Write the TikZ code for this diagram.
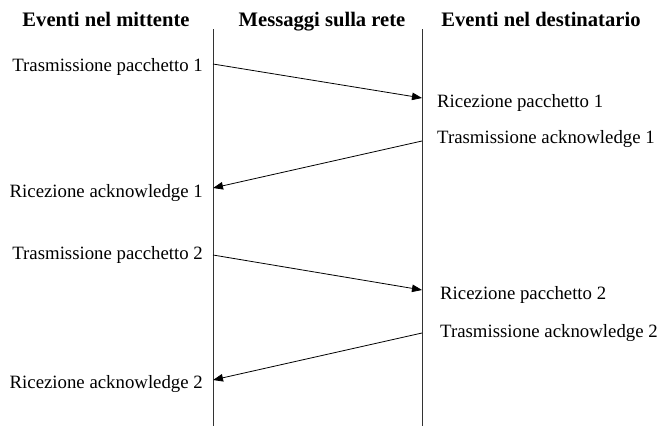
\documentclass[tikz,border=0pt]{standalone}
\usepackage{fontspec}
\setmainfont{Liberation Serif}
\usetikzlibrary{arrows.meta}
\begin{document}
\begin{tikzpicture}[x=1pt,y=-1pt,
  head/.style={font=\fontsize{20.6}{24}\selectfont\bfseries, anchor=base, inner sep=0pt},
  lbl/.style={font=\fontsize{18.8}{22}\selectfont, inner sep=0pt},
  lleft/.style={lbl, anchor=base east},
  lright/.style={lbl, anchor=base west},
  life/.style={line width=0.9pt, draw=black!80},
  msg/.style={line width=0.8pt, -{Triangle[length=10pt,width=7.5pt]}}]
\useasboundingbox (0,0) rectangle (657,426);
% headers
\node[head] (h1) at (106,26) {Eventi nel mittente};
\node[head] (h2) at (322,26) {Messaggi sulla rete};
\node[head] (h3) at (541,26) {Eventi nel destinatario};
% lifelines
\coordinate (lt) at (213,29); \coordinate (lb) at (213,426);
\coordinate (rt) at (422,29); \coordinate (rb) at (422,426);
\draw[life] (lt) -- (lb);
\draw[life] (rt) -- (rb);
% labels
\node[lleft] (s1) at (203,71) {Trasmissione pacchetto 1};
\node[lright] (r1) at (437,107) {Ricezione pacchetto 1};
\node[lright] (r2) at (437,143) {Trasmissione acknowledge 1};
\node[lleft] (s2) at (203,197) {Ricezione acknowledge 1};
\node[lleft] (s3) at (203,259) {Trasmissione pacchetto 2};
\node[lright] (r3) at (440,299) {Ricezione pacchetto 2};
\node[lright] (r4) at (440,337) {Trasmissione acknowledge 2};
\node[lleft] (s4) at (203,388) {Ricezione acknowledge 2};
% message endpoints
\coordinate (a1) at (213,64);  \coordinate (b1) at (422,98);
\coordinate (a2) at (422,141); \coordinate (b2) at (213,188);
\coordinate (a3) at (213,255); \coordinate (b3) at (422,290);
\coordinate (a4) at (422,333); \coordinate (b4) at (213,380);
\draw[msg] (a1) -- (b1);
\draw[msg] (a2) -- (b2);
\draw[msg] (a3) -- (b3);
\draw[msg] (a4) -- (b4);
\end{tikzpicture}
\end{document}
